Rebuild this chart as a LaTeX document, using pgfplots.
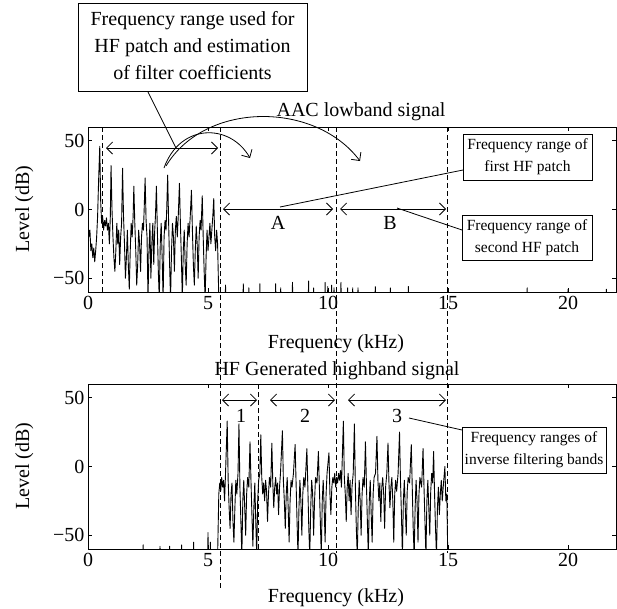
\documentclass[border=0pt]{standalone}
\usepackage{pgfplots}
\pgfplotsset{compat=1.18}
\usepackage{fontspec}
\setmainfont{Liberation Serif}
\usetikzlibrary{arrows.meta}
\def\fa{\fontsize{20}{27}\selectfont}
\def\fb{\fontsize{15.5}{22}\selectfont}
\pgfplotsset{
  specax/.style={
    scale only axis, width=528pt, height=165pt, anchor=south west,
    xmin=0, xmax=22, ymin=-60, ymax=60,
    xtick={0,5,10,15,20}, xticklabels={0,5,10,15,20},
    ytick={-50,0,50}, yticklabels={−50,0,50},
    tick align=inside, major tick length=4pt,
    tick label style={font=\fa},
    xticklabel style={yshift=-1pt},
    axis line style={line width=0.9pt},
    every tick/.style={black, line width=0.7pt},
    clip=true,
  }
}
\begin{document}
\begin{tikzpicture}
\begin{axis}[specax, at={(88pt,-292pt)}]
\addplot[black, line width=0.9pt, line join=round] coordinates {
(0.00,-8) (0.04,-20) (0.08,-15) (0.12,-30) (0.16,-25) (0.20,-35) (0.24,-28) (0.28,-38) (0.32,-30) (0.36,-20)
(0.40,-5) (0.44,20) (0.49,46) (0.53,5) (0.57,-10) (0.61,-5) (0.65,-15) (0.69,-8) (0.73,-12) (0.77,-6)
(0.81,-15) (0.85,-10) (0.89,-25) (0.93,-5) (0.96,32) (1.00,0) (1.04,-20) (1.08,-35) (1.12,-45) (1.16,-30)
(1.20,-10) (1.24,-25) (1.28,-15) (1.32,-40) (1.36,-20) (1.40,-10) (1.44,30) (1.48,-5) (1.52,-25) (1.56,-50)
(1.60,-35) (1.64,-15) (1.68,-40) (1.72,-58) (1.76,-30) (1.80,-10) (1.84,-20) (1.88,-5) (1.91,17) (1.95,-10)
(1.99,-30) (2.03,-55) (2.07,-40) (2.11,-15) (2.15,-25) (2.19,-45) (2.23,-20) (2.27,-10) (2.31,-15) (2.34,0)
(2.38,23) (2.42,-8) (2.46,-20) (2.50,-65) (2.54,-30) (2.58,-10) (2.62,-50) (2.66,-25) (2.70,-10) (2.74,-40)
(2.78,-15) (2.81,-5) (2.85,17) (2.89,-15) (2.93,-45) (2.97,-65) (3.01,-25) (3.05,-10) (3.09,-35) (3.13,-65)
(3.17,-20) (3.21,-8) (3.25,-15) (3.28,0) (3.32,25) (3.36,-10) (3.40,-40) (3.44,-65) (3.48,-30) (3.52,-10)
(3.56,-20) (3.60,-45) (3.64,-15) (3.68,-5) (3.72,-20) (3.76,-5) (3.81,19) (3.85,-10) (3.89,-35) (3.93,-65)
(3.97,-30) (4.01,-15) (4.05,-40) (4.09,-55) (4.13,-25) (4.17,-10) (4.21,-20) (4.26,-5) (4.31,14) (4.35,-15)
(4.39,-40) (4.43,-55) (4.47,-30) (4.51,-12) (4.55,-25) (4.59,-50) (4.63,-20) (4.67,-8) (4.71,-15) (4.76,10)
(4.80,-20) (4.84,-45) (4.88,-65) (4.92,-35) (4.96,-15) (5.00,-30) (5.04,-20) (5.08,-10) (5.12,-25) (5.16,-15)
(5.20,-5) (5.24,8) (5.28,-20) (5.32,-30) (5.36,-15) (5.40,-25) (5.45,-65)
(5.72,-65) (5.73,-55) (5.74,-65) (6.46,-65) (6.47,-54) (6.48,-65) (6.69,-65) (6.70,-57) (6.71,-65)
(7.15,-65) (7.16,-54) (7.17,-65) (7.81,-65) (7.82,-54) (7.83,-65) (8.02,-65) (8.03,-57) (8.04,-65)
(8.51,-65) (8.52,-53) (8.53,-65) (9.18,-65) (9.19,-52) (9.20,-65) (9.39,-65) (9.40,-57) (9.41,-65)
(9.87,-65) (9.88,-53) (9.89,-65) (9.98,-65) (9.99,-56) (10.00,-65) (10.14,-65) (10.15,-55) (10.16,-65)
(10.24,-65) (10.25,-57) (10.26,-65) (10.53,-65) (10.54,-53) (10.55,-65) (10.81,-65) (10.82,-57) (10.83,-65)
(11.02,-65) (11.03,-57) (11.04,-65) (11.24,-65) (11.25,-57) (11.26,-65) (11.96,-65) (11.97,-56) (11.98,-65)
(12.59,-65) (12.60,-57) (12.61,-65) (13.34,-65) (13.35,-56) (13.36,-65) (18.29,-65) (18.30,-57) (18.31,-65)
(19.99,-65) (20.00,-58) (20.01,-65) (21.59,-65) (21.60,-58) (21.61,-65) (22,-65)
};
\end{axis}
\begin{axis}[specax, at={(88pt,-549pt)}]
\addplot[black, line width=0.9pt, line join=round] coordinates {
(0,-65) (2.29,-65) (2.30,-57) (2.31,-65) (2.99,-65) (3.00,-58) (3.01,-65) (3.39,-65) (3.40,-58) (3.41,-65)
(3.89,-65) (3.90,-57) (3.91,-65) (4.39,-65) (4.40,-55) (4.41,-65) (4.99,-65) (5.00,-48) (5.01,-65)
(5.09,-65) (5.10,-55) (5.11,-65) (5.40,-65)
(5.45,-20) (5.49,-12) (5.53,-18) (5.57,-8) (5.61,-15) (5.65,-10) (5.69,-25) (5.73,-5) (5.80,33) (5.84,-10)
(5.88,-30) (5.92,-45) (5.96,-20) (6.00,-12) (6.04,-40) (6.08,-55) (6.12,-30) (6.16,-10) (6.20,-20) (6.25,-5)
(6.29,31) (6.33,-15) (6.37,-40) (6.41,-65) (6.45,-25) (6.49,-10) (6.53,-30) (6.57,-50) (6.61,-20) (6.65,-8)
(6.70,-15) (6.75,18) (6.79,-10) (6.83,-35) (6.87,-58) (6.91,-30) (6.95,-12) (6.99,-40) (7.03,-65) (7.07,-25)
(7.11,-10) (7.16,-5) (7.20,23) (7.24,-8) (7.28,-20) (7.32,-12) (7.36,-25) (7.40,-10) (7.44,-18) (7.48,-40)
(7.52,-20) (7.56,-8) (7.61,-15) (7.66,17) (7.70,-12) (7.74,-30) (7.78,-15) (7.82,-8) (7.86,-20) (7.90,-12)
(7.94,-35) (7.98,-15) (8.02,-5) (8.10,26) (8.14,-10) (8.18,-25) (8.22,-45) (8.26,-20) (8.30,-8) (8.34,-30)
(8.38,-55) (8.42,-25) (8.46,-10) (8.50,-15) (8.56,-5) (8.63,16) (8.67,-12) (8.71,-40) (8.75,-65) (8.79,-30)
(8.83,-10) (8.87,-25) (8.91,-50) (8.95,-20) (8.99,-8) (9.04,-15) (9.12,13) (9.16,-15) (9.20,-45) (9.24,-65)
(9.28,-30) (9.32,-10) (9.36,-20) (9.40,-50) (9.44,-25) (9.48,-8) (9.54,-12) (9.60,11) (9.64,-15) (9.68,-40)
(9.72,-65) (9.76,-25) (9.80,-10) (9.84,-30) (9.88,-55) (9.92,-20) (9.96,-5) (10.04,10) (10.08,-20) (10.12,-35)
(10.16,-15) (10.20,-8) (10.24,-12) (10.28,-5) (10.32,-15) (10.36,-8) (10.40,-12) (10.44,-5) (10.48,-10) (10.52,-3)
(10.56,-15) (10.64,33) (10.68,-8) (10.72,-20) (10.76,-40) (10.80,-15) (10.84,-5) (10.88,-25) (10.92,-10) (10.96,-35)
(11.00,-15) (11.05,-5) (11.10,31) (11.14,-15) (11.18,-45) (11.22,-65) (11.26,-30) (11.30,-10) (11.34,-25) (11.38,-50)
(11.42,-20) (11.46,-8) (11.51,-15) (11.56,18) (11.60,-12) (11.64,-40) (11.68,-65) (11.72,-25) (11.76,-10) (11.80,-35)
(11.84,-55) (11.88,-20) (11.92,-8) (11.98,-5) (12.04,22) (12.08,-10) (12.12,-25) (12.16,-12) (12.20,-40) (12.24,-15)
(12.28,-8) (12.32,-20) (12.36,-45) (12.40,-15) (12.45,-5) (12.50,17) (12.54,-12) (12.58,-30) (12.62,-15) (12.66,-8)
(12.70,-25) (12.74,-55) (12.78,-20) (12.82,-10) (12.86,-18) (12.92,-5) (12.98,25) (13.02,-10) (13.06,-35) (13.10,-65)
(13.14,-25) (13.18,-10) (13.22,-30) (13.26,-50) (13.30,-18) (13.34,-8) (13.40,-12) (13.47,16) (13.51,-15) (13.55,-45)
(13.59,-65) (13.63,-30) (13.67,-10) (13.71,-25) (13.75,-55) (13.79,-20) (13.83,-8) (13.90,-15) (13.96,13) (14.00,-15)
(14.04,-40) (14.08,-65) (14.12,-25) (14.16,-10) (14.20,-30) (14.24,-50) (14.28,-18) (14.32,-5) (14.36,-12) (14.40,11)
(14.44,-20) (14.48,-45) (14.52,-65) (14.56,-30) (14.60,-15) (14.64,-35) (14.68,-20) (14.72,-10) (14.76,-25) (14.80,-15)
(14.87,0) (14.91,-25) (14.95,-20) (14.99,-65) (22,-65)
};
\end{axis}
\begin{scope}[x=1pt,y=-1pt]
\useasboundingbox (0,0) rectangle (617,608);
% dashed lines
\begin{scope}[dash pattern=on 5pt off 3pt, line width=0.8pt]
\draw (102.4,127) -- (102.4,292);
\draw (220,127) -- (220,590);
\draw (336.8,127) -- (336.8,553);
\draw (447.3,127) -- (447.3,553);
\draw (258.4,384) -- (258.4,549);
\end{scope}
% labels
\node[font=\fa, anchor=base] at (361,116) {AAC lowband signal};
\node[font=\fa, anchor=base] at (336,348) {Frequency (kHz)};
\node[font=\fa, anchor=base] at (337,375) {HF Generated highband signal};
\node[font=\fa, anchor=base] at (336,602) {Frequency (kHz)};
\node[font=\fa, anchor=base, rotate=90] at (29,209) {Level (dB)};
\node[font=\fa, anchor=base, rotate=90] at (29,466) {Level (dB)};
% top-left box
\draw[line width=0.9pt, fill=white] (78,3) rectangle (307,91);
\node[font=\fa, align=center] at (192.5,46) {Frequency range used for\\HF patch and estimation\\of filter coefficients};
\begin{scope}[line width=0.8pt, >={Straight Barb[length=6pt,width=12pt]}]
\draw (148,92) -- (176,148);
\draw[<->] (106,148) -- (218,148);
\draw[->] (164,168) .. controls (180,123) and (230,123) .. (250,158);
\draw[->] (166,166) .. controls (205,101) and (315,101) .. (360,161);
\draw[<->] (223,209) -- (333,209);
\draw[<->] (340,209) -- (446,209);
\draw (280,207) -- (463,170);
\draw (397,208) -- (462,230);
\draw[<->] (222,400) -- (257,400);
\draw[<->] (270,400) -- (335,400);
\draw[<->] (348,400) -- (446,400);
\draw (409,418) -- (462,430);
\end{scope}
\node[font=\fa] at (278,223) {A};
\node[font=\fa] at (390,223) {B};
\node[font=\fa] at (241,416) {1};
\node[font=\fa] at (305,416) {2};
\node[font=\fa] at (397,416) {3};
% small boxes
\draw[line width=0.9pt, fill=white] (463,134) rectangle (592,180);
\node[font=\fb, align=center] at (527.5,157) {Frequency range of\\first HF patch};
\draw[line width=0.9pt, fill=white] (462,215) rectangle (592,260);
\node[font=\fb, align=center] at (527,237.5) {Frequency range of\\second HF patch};
\draw[line width=0.9pt, fill=white] (462,427) rectangle (606,473);
\node[font=\fb, align=center] at (534,450) {Frequency ranges of\\inverse filtering bands};
\end{scope}
\end{tikzpicture}
\end{document}
